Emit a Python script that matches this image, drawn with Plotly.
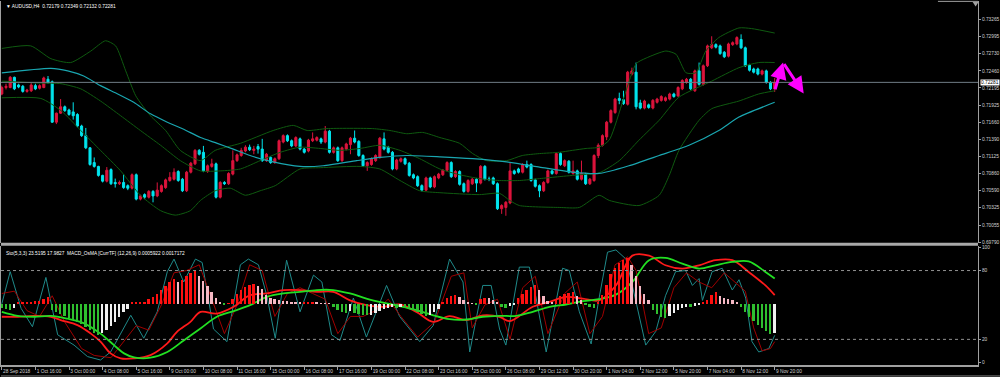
import plotly.graph_objects as go

# ---------------- data ----------------
x_labels = ["28 Sep 2018", "1 Oct 16:00", "3 Oct 00:00", "4 Oct 08:00", "5 Oct 16:00", "9 Oct 00:00",
            "10 Oct 08:00", "11 Oct 16:00", "15 Oct 00:00", "16 Oct 08:00", "17 Oct 16:00", "19 Oct 00:00",
            "22 Oct 08:00", "23 Oct 16:00", "25 Oct 00:00", "26 Oct 08:00", "29 Oct 12:00", "30 Oct 20:00",
            "1 Nov 04:00", "2 Nov 12:00", "5 Nov 20:00", "7 Nov 04:00", "8 Nov 12:00", "9 Nov 20:00"]
x_label_bars = [0, 8, 16, 24, 32, 40, 48, 56, 64, 72, 80, 88, 96, 104, 112, 120, 128, 136, 144, 152, 160, 168, 176, 184]

price_ticks = [0.73265, 0.72995, 0.72730, 0.72460, 0.72195, 0.71925, 0.71660, 0.71390, 0.71125,
               0.70860, 0.70590, 0.70325, 0.70055, 0.69790]
last_price = 0.72281

opens = [0.7210,0.7220,0.7220,0.7236,0.7224,0.7222,0.7214,0.7215,0.7223,0.7219,0.7220,0.7233,0.7229,0.7166,0.7180,0.7190,0.7185,0.7182,0.7178,0.7160,
         0.7145,0.7126,0.7103,0.7097,0.7083,0.7074,0.7092,0.7072,0.7070,0.7072,0.7067,0.7063,0.7084,0.7046,0.7053,0.7049,0.7058,0.7051,0.7058,0.7064,
         0.7075,0.7077,0.7089,0.7077,0.7059,0.7088,0.7101,0.7122,0.7119,0.7089,0.7097,0.7101,0.7049,0.7072,0.7070,0.7085,0.7106,0.7114,0.7121,0.7127,
         0.7122,0.7128,0.7124,0.7106,0.7111,0.7103,0.7109,0.7135,0.7145,0.7137,0.7129,0.7140,0.7124,0.7121,0.7137,0.7138,0.7140,0.7135,0.7152,0.7119,
         0.7126,0.7106,0.7124,0.7131,0.7141,0.7136,0.7114,0.7098,0.7100,0.7106,0.7111,0.7140,0.7127,0.7119,0.7093,0.7105,0.7109,0.7102,0.7084,0.7081,
         0.7067,0.7060,0.7079,0.7065,0.7079,0.7084,0.7091,0.7103,0.7081,0.7089,0.7070,0.7058,0.7070,0.7077,0.7071,0.7097,0.7077,0.7079,0.7070,0.7031,
         0.7033,0.7040,0.7090,0.7093,0.7088,0.7100,0.7100,0.7076,0.7067,0.7059,0.7072,0.7090,0.7086,0.7117,0.7098,0.7105,0.7086,0.7090,0.7077,0.7085,
         0.7070,0.7075,0.7114,0.7130,0.7143,0.7166,0.7181,0.7203,0.7201,0.7194,0.7241,0.7244,0.7196,0.7188,0.7193,0.7188,0.7197,0.7200,0.7200,0.7202,
         0.7210,0.7207,0.7218,0.7228,0.7233,0.7215,0.7246,0.7225,0.7254,0.7282,0.7287,0.7285,0.7275,0.7269,0.7287,0.7288,0.7295,0.7282,0.7255,0.7249,
         0.7249,0.7241,0.7246,0.7228,0.72179]
highs = [0.7223,0.7226,0.7238,0.7237,0.7226,0.7224,0.7218,0.7227,0.7226,0.7225,0.7237,0.7238,0.7231,0.7181,0.7202,0.7192,0.7187,0.7197,0.7180,0.7162,
         0.7157,0.7127,0.7111,0.7098,0.7084,0.7096,0.7094,0.7078,0.7075,0.7085,0.7069,0.7086,0.7086,0.7053,0.7055,0.7060,0.7060,0.7072,0.7069,0.7078,
         0.7088,0.7094,0.7091,0.7079,0.7090,0.7104,0.7124,0.7124,0.7129,0.7100,0.7109,0.7103,0.7074,0.7074,0.7088,0.7122,0.7117,0.7126,0.7130,0.7131,
         0.7129,0.7132,0.7140,0.7118,0.7113,0.7111,0.7139,0.7147,0.7147,0.7139,0.7144,0.7142,0.7126,0.7140,0.7150,0.7144,0.7142,0.7160,0.7154,0.7128,
         0.7128,0.7128,0.7134,0.7143,0.7153,0.7138,0.7116,0.7105,0.7111,0.7116,0.7143,0.7150,0.7129,0.7121,0.7109,0.7111,0.7111,0.7104,0.7086,0.7083,
         0.7069,0.7081,0.7081,0.7083,0.7087,0.7093,0.7105,0.7105,0.7091,0.7091,0.7072,0.7077,0.7079,0.7079,0.7099,0.7099,0.7081,0.7081,0.7072,0.7038,
         0.7043,0.7103,0.7092,0.7095,0.7102,0.7106,0.7102,0.7078,0.7069,0.7074,0.7092,0.7092,0.7119,0.7119,0.7108,0.7107,0.7106,0.7092,0.7106,0.7087,
         0.7079,0.7116,0.7133,0.7147,0.7168,0.7186,0.7204,0.7212,0.7215,0.7246,0.7251,0.7259,0.7201,0.7201,0.7195,0.7202,0.7204,0.7208,0.7206,0.7212,
         0.7212,0.7222,0.7233,0.7235,0.7235,0.7248,0.7259,0.7256,0.7287,0.7300,0.7289,0.7287,0.7277,0.7290,0.7292,0.7300,0.7303,0.7284,0.7257,0.7251,
         0.7251,0.7248,0.7248,0.7230,0.72349]
lows = [0.7208,0.7217,0.7219,0.7216,0.7219,0.7212,0.7212,0.7213,0.7216,0.7217,0.7219,0.7226,0.7165,0.7163,0.7179,0.7182,0.7176,0.7170,0.7158,0.7143,
        0.7124,0.7098,0.7095,0.7081,0.7072,0.7072,0.7068,0.7064,0.7068,0.7062,0.7060,0.7061,0.7044,0.7044,0.7046,0.7047,0.7041,0.7049,0.7056,0.7062,
        0.7073,0.7075,0.7073,0.7057,0.7057,0.7086,0.7099,0.7114,0.7088,0.7087,0.7095,0.7047,0.7047,0.7068,0.7068,0.7083,0.7104,0.7112,0.7119,0.7121,
        0.7116,0.7117,0.7104,0.7104,0.7101,0.7101,0.7107,0.7133,0.7135,0.7127,0.7127,0.7122,0.7117,0.7119,0.7135,0.7136,0.7132,0.7133,0.7117,0.7117,
        0.7104,0.7104,0.7122,0.7116,0.7133,0.7112,0.7096,0.7090,0.7098,0.7104,0.7109,0.7122,0.7117,0.7091,0.7091,0.7103,0.7099,0.7081,0.7077,0.7065,
        0.7058,0.7058,0.7063,0.7063,0.7077,0.7082,0.7089,0.7079,0.7079,0.7067,0.7056,0.7056,0.7068,0.7057,0.7069,0.7075,0.7074,0.7068,0.7029,0.7023,
        0.7020,0.7038,0.7084,0.7086,0.7086,0.7094,0.7073,0.7064,0.7049,0.7057,0.7070,0.7084,0.7084,0.7098,0.7096,0.7086,0.7084,0.7075,0.7075,0.7068,
        0.7068,0.7073,0.7110,0.7128,0.7138,0.7164,0.7179,0.7194,0.7193,0.7192,0.7239,0.7186,0.7186,0.7186,0.7187,0.7186,0.7195,0.7198,0.7198,0.7200,
        0.7204,0.7205,0.7216,0.7226,0.7216,0.7213,0.7223,0.7223,0.7252,0.7280,0.7281,0.7271,0.7266,0.7267,0.7285,0.7286,0.7280,0.7252,0.7245,0.7242,
        0.7239,0.7239,0.7226,0.7216,0.72132]
closes = [0.7220,0.7222,0.7236,0.7218,0.7221,0.7214,0.7216,0.7224,0.7218,0.7223,0.7235,0.7228,0.7166,0.7180,0.7190,0.7184,0.7178,0.7176,0.7160,0.7145,
          0.7126,0.7100,0.7097,0.7083,0.7074,0.7091,0.7070,0.7070,0.7072,0.7064,0.7063,0.7084,0.7046,0.7051,0.7049,0.7058,0.7051,0.7060,0.7067,0.7076,
          0.7080,0.7088,0.7075,0.7059,0.7088,0.7102,0.7122,0.7116,0.7090,0.7098,0.7101,0.7049,0.7072,0.7070,0.7086,0.7106,0.7115,0.7122,0.7127,0.7123,
          0.7124,0.7124,0.7106,0.7116,0.7103,0.7109,0.7137,0.7145,0.7137,0.7129,0.7142,0.7124,0.7119,0.7138,0.7140,0.7142,0.7135,0.7152,0.7119,0.7126,
          0.7106,0.7126,0.7132,0.7141,0.7135,0.7114,0.7098,0.7103,0.7109,0.7114,0.7141,0.7124,0.7119,0.7093,0.7107,0.7109,0.7101,0.7083,0.7079,0.7067,
          0.7060,0.7079,0.7065,0.7081,0.7085,0.7091,0.7103,0.7081,0.7089,0.7069,0.7058,0.7075,0.7077,0.7071,0.7097,0.7077,0.7077,0.7070,0.7031,0.7036,
          0.7041,0.7090,0.7086,0.7088,0.7100,0.7096,0.7075,0.7066,0.7059,0.7072,0.7090,0.7086,0.7117,0.7100,0.7106,0.7088,0.7090,0.7077,0.7086,0.7070,
          0.7077,0.7114,0.7130,0.7145,0.7166,0.7184,0.7202,0.7200,0.7195,0.7244,0.7246,0.7190,0.7188,0.7199,0.7189,0.7200,0.7202,0.7206,0.7204,0.7210,
          0.7206,0.7220,0.7231,0.7233,0.7218,0.7246,0.7225,0.7254,0.7285,0.7287,0.7283,0.7273,0.7268,0.7288,0.7290,0.7298,0.7282,0.7254,0.7247,0.7244,
          0.7241,0.7246,0.7228,0.7218,0.72281]

# Bollinger bands and moving average (bar index, price)
bb_up_x = [0, 6.9, 11.7, 16.4, 21.2, 24.7, 27.1, 29.5, 31.9, 35.4, 39, 42.5, 47.3, 50.8, 56.8, 64.6, 69.4, 72.7, 77.4, 88.3,
           92.4, 96.4, 100.2, 104.3, 109, 112.1, 115.4, 120.2, 123.9, 128, 132.7, 135.8, 139.1, 142.2, 144.6, 151, 153.4, 158.1,
           160.5, 162.9, 165.2, 167.6, 170.7, 175.5, 178.5, 184]
bb_up_y = [0.7281, 0.7285, 0.7265, 0.7259, 0.7277, 0.7293, 0.7285, 0.7246, 0.7207, 0.7176, 0.7153, 0.7122, 0.7106, 0.7122, 0.7133,
           0.7153, 0.7161, 0.7153, 0.7156, 0.7156, 0.7153, 0.7148, 0.7150, 0.7142, 0.7133, 0.7117, 0.7106, 0.7106, 0.7114, 0.7117,
           0.7119, 0.7122, 0.7125, 0.7127, 0.7138, 0.7257, 0.7266, 0.7277, 0.7272, 0.7243, 0.7243, 0.7277, 0.7298, 0.7313, 0.7312, 0.7305]
bb_mid_x = [0, 9.3, 14.1, 18.8, 23.5, 28.3, 33, 37.8, 42.5, 47.3, 52, 56.8, 61.5, 66.3, 71, 75.8, 80.5, 85.3, 90, 94.8, 99.5,
            104.3, 109, 113.7, 118.5, 123.2, 128, 132.7, 137.5, 142.2, 147, 151.7, 156.5, 161.2, 169, 175.5, 180.2, 184]
bb_mid_y = [0.7230, 0.7227, 0.7226, 0.7218, 0.7199, 0.7176, 0.7153, 0.7130, 0.7106, 0.7090, 0.7090, 0.7093, 0.7106, 0.7119,
            0.7127, 0.7125, 0.7122, 0.7125, 0.7130, 0.7122, 0.7109, 0.7093, 0.7084, 0.7078, 0.7075, 0.7075, 0.7078, 0.7081, 0.7084,
            0.7087, 0.7106, 0.7138, 0.7169, 0.7205, 0.7230, 0.7251, 0.7259, 0.7259]
bb_lo_x = [0, 9.3, 14.1, 18.8, 23.5, 28.3, 33, 37.8, 41.3, 44.9, 47.3, 50.8, 54.4, 58, 61.5, 65.1, 71, 75.8, 85.3, 90, 94.8,
           99.5, 104.3, 113.7, 118.5, 120.9, 123.2, 132.7, 137.5, 142.2, 144.6, 151.7, 156.5, 158.9, 161.2, 166, 169, 175.5,
           180.2, 184]
bb_lo_y = [0.7204, 0.7203, 0.7184, 0.7153, 0.7122, 0.7090, 0.7052, 0.7028, 0.7021, 0.7028, 0.7044, 0.7059, 0.7063, 0.7052,
           0.7059, 0.7067, 0.7093, 0.7095, 0.7097, 0.7093, 0.7075, 0.7059, 0.7056, 0.7053, 0.7055, 0.7044, 0.7036, 0.7033, 0.7033,
           0.7052, 0.7044, 0.7036, 0.7052, 0.7083, 0.7122, 0.7169, 0.7187, 0.7199, 0.7210, 0.7215]
ma_x = [0, 11.7, 15.7, 19.5, 23.5, 27.6, 31.4, 35.4, 39.4, 43.3, 47.3, 51.3, 55.1, 59.1, 64.6, 71, 76.5, 84.5, 90, 96.4,
        104.3, 112.1, 120.2, 128, 135.8, 142.2, 149.3, 156.5, 163.6, 170.7, 175.5, 184]
ma_y = [0.7243, 0.7250, 0.7246, 0.7238, 0.7223, 0.7210, 0.7197, 0.7179, 0.7166, 0.7155, 0.7142, 0.7133, 0.7124, 0.7114,
        0.7104, 0.7097, 0.7098, 0.7106, 0.7111, 0.7114, 0.7112, 0.7109, 0.7104, 0.7096, 0.7088, 0.7086, 0.7098, 0.7114,
        0.7130, 0.7153, 0.7174, 0.7197]

# hand-drawn forecast arrows (bar index, price)
arrow_x = [184, 186.0, 190.9]
arrow_y = [0.72150, 0.72590, 0.72108]

# Stochastic (5,3,3)
sto_main_x = [0, 2, 4.6, 7.3, 10.5, 13.3, 17.2, 20.4, 23.5, 25.9, 30.7, 33.8, 37, 39.4, 41, 43.3, 46.1, 47.7, 50.4, 53.6,
              56.8, 58.7, 61.1, 63.1, 65.1, 67.8, 71, 74.2, 76.2, 78.5, 80.5, 83.7, 86.8, 91.6, 94.7, 99.5, 102.7, 106.6,
              109.8, 111.4, 114.5, 116.5, 118.5, 120, 123.2, 125.6, 127.2, 129.6, 133.5, 135.1, 137.5, 140.3, 142.2, 144.2,
              146.2, 148.6, 150.1, 153.3, 155.7, 158, 160.4, 162.8, 164.4, 166, 166.8, 169.1, 171.5, 173.9, 175.5, 177.1,
              178.6, 180.2, 182.6, 184]
sto_main_v = [51, 79, 47, 31, 74, 24, 15, 5, 2, 9, 41, 21, 44, 79, 90, 70, 90, 87, 29, 18, 85, 90, 85, 58, 21, 89, 44, 76,
              70, 24, 19, 56, 22, 67, 40, 18, 32, 90, 70, 9, 67, 67, 29, 15, 83, 83, 56, 9, 82, 80, 44, 16, 56, 96, 98, 90,
              67, 15, 27, 58, 79, 80, 67, 73, 54, 79, 82, 63, 72, 56, 18, 9, 12, 23.5]
sto_sig_x = [0, 3, 6, 9, 12, 15, 19, 22, 26, 29, 32, 35, 38, 41, 44, 47, 50, 53, 56, 59, 62, 65, 68, 71, 74, 77, 80, 83, 86,
             89, 92, 95, 99, 103, 107, 110, 112, 115, 118, 121, 124, 127, 130, 134, 137, 140, 143, 146, 149, 151, 154, 157,
             160, 163, 166, 169, 172, 175, 177, 179, 181, 183, 184]
sto_sig_v = [60, 62, 45, 40, 58, 35, 12, 6, 4, 18, 32, 28, 50, 78, 80, 85, 55, 25, 50, 85, 80, 40, 60, 65, 60, 55, 25, 40, 40,
             45, 55, 40, 22, 35, 75, 78, 30, 50, 55, 20, 65, 75, 25, 60, 70, 25, 40, 85, 92, 80, 25, 30, 65, 78, 70, 65, 78,
             68, 62, 30, 10, 12, 18]

# smooth signal lines of the lower window
green_x = [0, 3.8, 7.7, 11.7, 15.6, 19.6, 23.5, 26.7, 29.1, 31.5, 35.4, 39.4, 43.3, 47.3, 51.2, 55.2, 59.1, 63.1, 67.1, 71,
           75, 78.9, 82.9, 86.8, 90.8, 94.7, 98.7, 102.7, 106.6, 110.6, 114.5, 118.5, 122.5, 126.4, 130.4, 134.3, 138.3,
           142.2, 146.2, 150.1, 154.1, 158, 162, 166, 169.9, 173.9, 177.8, 181.8, 184]
green_v = [44, 40.5, 39.7, 40.5, 38, 34, 25, 15, 7.8, 4.3, 4, 9, 19, 29.5, 39.7, 44.6, 49.8, 57, 60, 61.4, 63, 63, 60, 55.6,
           52, 49, 45.5, 41, 37.6, 37.3, 39.7, 40.5, 40.5, 44, 48.4, 50.4, 53.3, 55, 59, 70, 89, 91, 86, 81.7, 84.6, 87.5,
           88, 78.8, 73]
red_x = [0, 3.8, 7.7, 11.7, 14, 18, 21.2, 23.5, 25.9, 28.3, 31.5, 35.4, 39.4, 41.7, 44.9, 47.3, 51.2, 55.2, 59.1, 63.1,
         67.1, 71, 75, 78.9, 82.9, 86.8, 90.8, 94.7, 98.7, 102.7, 106.6, 110.6, 114.5, 118.5, 120.9, 126.4, 130.4, 134.3,
         138.3, 142.2, 146.2, 150.1, 154.1, 158, 162, 166, 169.9, 173.9, 177.8, 181.8, 184]
red_v = [39.7, 39.7, 40.5, 39.7, 36.8, 32.4, 25, 18, 7.8, 3.4, 3.4, 6.3, 16.5, 26.6, 35.3, 44, 42.5, 48.4, 58.5, 60, 62.9,
         62.9, 61.4, 61.4, 54, 49.8, 48.4, 50.4, 44, 35.3, 40.2, 36.8, 41, 39.7, 35.9, 48.4, 52.7, 57, 55.6, 54, 67, 93, 93,
         84.6, 81.7, 84.6, 89, 89, 78.8, 67, 58.5]

# MACD OsMA histogram, in points (1 point = 0.00001), one value per bar
osma_points = [-8, -10, -12, -8,
               2, 3, 4, 4, 5, 6, 10, 14,
               -12, -16, -20, -24, -28, -32, -36, -40, -46, -52, -58, -62,
               -58, -52, -44, -36, -26, -16, -10,
               2, 2, 3, 4,
               10, 14, 20, 28, 36, 44, 50, 44, 48, 56, 62, 68,
               56, 46, 36, 24, 12, 4,
               -2, 1,
               10, 20, 28, 34, 38, 39, 36,
               30, 18, 12, 10, 8, 6, 5, 4, 3,
               2, 2, 2.4, 3, 2, 1.6, 1, 0.6,
               -6, -12, -16, -18, -14, -18, -20, -22, -23,
               -22, -18, -14, -10, -8, -7, -8,
               -6, -8, -10, -12, -16, -20, -24, -22, -16, -10,
               4, 12, 16, 18, 14, 8,
               2, 1, -1,
               10, 12, 11, 8, 2,
               -6, -8, -4, -2,
               12, 20, 28, 34, 38, 28, 16, 6,
               2, 8, 16,
               20, 22, 24, 16, 8,
               -2, -6, -8, 4,
               18, 38, 60, 72, 82, 88, 92, 78, 56, 36, 20, 8,
               -12, -20, -26, -28,
               -24, -18, -12, -8, -6,
               -7, -4, -2,
               4, 8, 18, 24, 16, 12, 10, 7, 4,
               -6, -16, -26, -34, -42, -48, -54, -60, -58]

title_main = "\u25BC AUDUSD,H4  0.72179 0.72349 0.72132 0.72281"
title_sub = "Sto(5,3,3) 23.5195 17.9827  MACD_OsMA [CurrTF] (12,26,9) 0.0005922 0.0017172"

# ---------------- styling ----------------
BULL = "#dc143c"
BEAR = "#00e5ee"
BAND = "#0f5a10"
MA_C = "#1aa6b0"
AX_C = "#a0a0a0"
TXT = "#d0d0d0"
FONT = "Liberation Sans"
FS = 4.8

bars = list(range(len(closes)))

hist_colors = []
for k, v in enumerate(osma_points):
    prev = osma_points[k - 1] if k > 0 else v
    if v >= 0:
        hist_colors.append("#ff1010" if v >= prev else "#f5b8c4")
    else:
        hist_colors.append("#2fbf2f" if v <= prev else "#f0f0f0")

fig = go.Figure()

for bx, by in ((bb_up_x, bb_up_y), (bb_mid_x, bb_mid_y), (bb_lo_x, bb_lo_y)):
    fig.add_trace(go.Scatter(x=bx, y=by, mode="lines", line=dict(color=BAND, width=1, shape="spline", smoothing=0.6),
                             xaxis="x", yaxis="y", hoverinfo="skip"))
fig.add_trace(go.Scatter(x=ma_x, y=ma_y, mode="lines", line=dict(color=MA_C, width=1.2, shape="spline", smoothing=0.6),
                         xaxis="x", yaxis="y", hoverinfo="skip"))

fig.add_trace(go.Candlestick(x=bars, open=opens, high=highs, low=lows, close=closes,
                             increasing=dict(line=dict(color=BULL, width=1), fillcolor=BULL),
                             decreasing=dict(line=dict(color=BEAR, width=1), fillcolor=BEAR),
                             whiskerwidth=0, xaxis="x", yaxis="y", hoverinfo="skip"))

# lower window
fig.add_trace(go.Bar(x=bars, y=osma_points, marker=dict(color=hist_colors, line=dict(width=0)), width=0.42,
                     xaxis="x2", yaxis="y3", hoverinfo="skip"))
fig.add_trace(go.Scatter(x=sto_main_x, y=sto_main_v, mode="lines", line=dict(color="#1f8a8a", width=1),
                         xaxis="x2", yaxis="y2", hoverinfo="skip"))
fig.add_trace(go.Scatter(x=sto_sig_x, y=sto_sig_v, mode="lines", line=dict(color="#a00000", width=1),
                         xaxis="x2", yaxis="y2", hoverinfo="skip"))
fig.add_trace(go.Scatter(x=red_x, y=red_v, mode="lines", line=dict(color="#ff1a1a", width=1.8, shape="spline"),
                         xaxis="x2", yaxis="y2", hoverinfo="skip"))
fig.add_trace(go.Scatter(x=green_x, y=green_v, mode="lines", line=dict(color="#22e022", width=1.8, shape="spline"),
                         xaxis="x2", yaxis="y2", hoverinfo="skip"))

xr = [-0.19, 232.4]
fig.update_layout(
    width=1000, height=377,
    paper_bgcolor="black", plot_bgcolor="black",
    margin=dict(l=0, r=20, t=0, b=12),
    showlegend=False,
    font=dict(family=FONT, size=FS, color=TXT),
    xaxis=dict(domain=[0, 1], range=xr, anchor="y", showticklabels=False, showgrid=False, zeroline=False,
               rangeslider=dict(visible=False), ticks=""),
    xaxis2=dict(domain=[0, 1], range=xr, anchor="y2", showgrid=False, zeroline=False,
                tickmode="array", tickvals=x_label_bars, ticktext=x_labels, ticks="outside", ticklen=3,
                tickcolor=AX_C, ticklabelposition="outside right", tickangle=0,
                tickfont=dict(family=FONT, size=FS, color=TXT),
                showline=True, linecolor=AX_C, linewidth=1.5),
    yaxis=dict(domain=[0.3342, 1], range=[0.69770, 0.73550], side="right", showgrid=False, zeroline=False,
               tickmode="array", tickvals=price_ticks, ticktext=["%.5f" % v for v in price_ticks],
               ticks="outside", ticklen=2, tickcolor=AX_C, tickfont=dict(family=FONT, size=FS, color=TXT),
               showline=True, linecolor=AX_C, linewidth=1, mirror=True),
    yaxis2=dict(domain=[0, 0.3260], range=[-2.35, 101.1], side="right", showgrid=False, zeroline=False,
                tickmode="array", tickvals=[0, 20, 80, 100], ticktext=["0", "20", "80", "100"],
                ticks="outside", ticklen=2, tickcolor=AX_C, tickfont=dict(family=FONT, size=FS, color=TXT),
                showline=True, linecolor=AX_C, linewidth=1, mirror=True),
    yaxis3=dict(overlaying="y2", range=[-122, 116], visible=False),
    bargap=0,
)

shapes = [
    dict(type="line", xref="paper", yref="y", x0=0, x1=1, y0=last_price, y1=last_price,
         line=dict(color="#707c86", width=1)),
    dict(type="line", xref="paper", yref="y2", x0=0, x1=1, y0=80, y1=80, line=dict(color="#909090", width=1, dash="dot")),
    dict(type="line", xref="paper", yref="y2", x0=0, x1=1, y0=20, y1=20, line=dict(color="#909090", width=1, dash="dot")),
    dict(type="rect", xref="paper", yref="paper", x0=0, x1=1, y0=0.3274, y1=0.3356,
         fillcolor="#a8a8a8", line=dict(width=0)),
    dict(type="line", xref="paper", yref="paper", x0=0, x1=1.03, y0=-0.0301, y1=-0.0301,
         line=dict(color="#808080", width=1)),
    # chart-shift marker and top frame piece at the upper right
    dict(type="line", xref="paper", yref="paper", x0=0.959, x1=1, y0=0.999, y1=0.999,
         line=dict(color="#a0a0a0", width=1)),
    dict(type="path", xref="paper", yref="paper", path="M 0.9945 0.997 L 1.0006 0.997 L 0.99755 0.985 Z",
         fillcolor="#a0a0a0", line=dict(width=0)),
]
fig.update_layout(shapes=shapes)

annotations = [
    dict(text=title_main, xref="paper", yref="paper", x=0.003, y=0.986, xanchor="left", yanchor="middle",
         showarrow=False, font=dict(family=FONT, size=FS, color="#ffffff")),
    dict(text=title_sub, xref="paper", yref="paper", x=0.003, y=0.3068, xanchor="left", yanchor="middle",
         showarrow=False, font=dict(family=FONT, size=FS, color="#ffffff")),
    dict(text="%.5f" % last_price, xref="paper", yref="y", x=1.002, y=last_price, xanchor="left", yanchor="middle",
         showarrow=False, bgcolor="#ffffff", borderpad=0, font=dict(family=FONT, size=FS, color="#000000")),
]
for k in range(len(arrow_x) - 1):
    annotations.append(dict(x=arrow_x[k + 1], y=arrow_y[k + 1], ax=arrow_x[k], ay=arrow_y[k],
                            xref="x", yref="y", axref="x", ayref="y", text="", showarrow=True,
                            arrowhead=2, arrowsize=1.1, arrowwidth=3, arrowcolor="#ff00ff"))
fig.update_layout(annotations=annotations)

fig.write_html("out.html", config={"displayModeBar": False},
               post_script="document.body.style.margin='0';document.body.style.background='black';")
